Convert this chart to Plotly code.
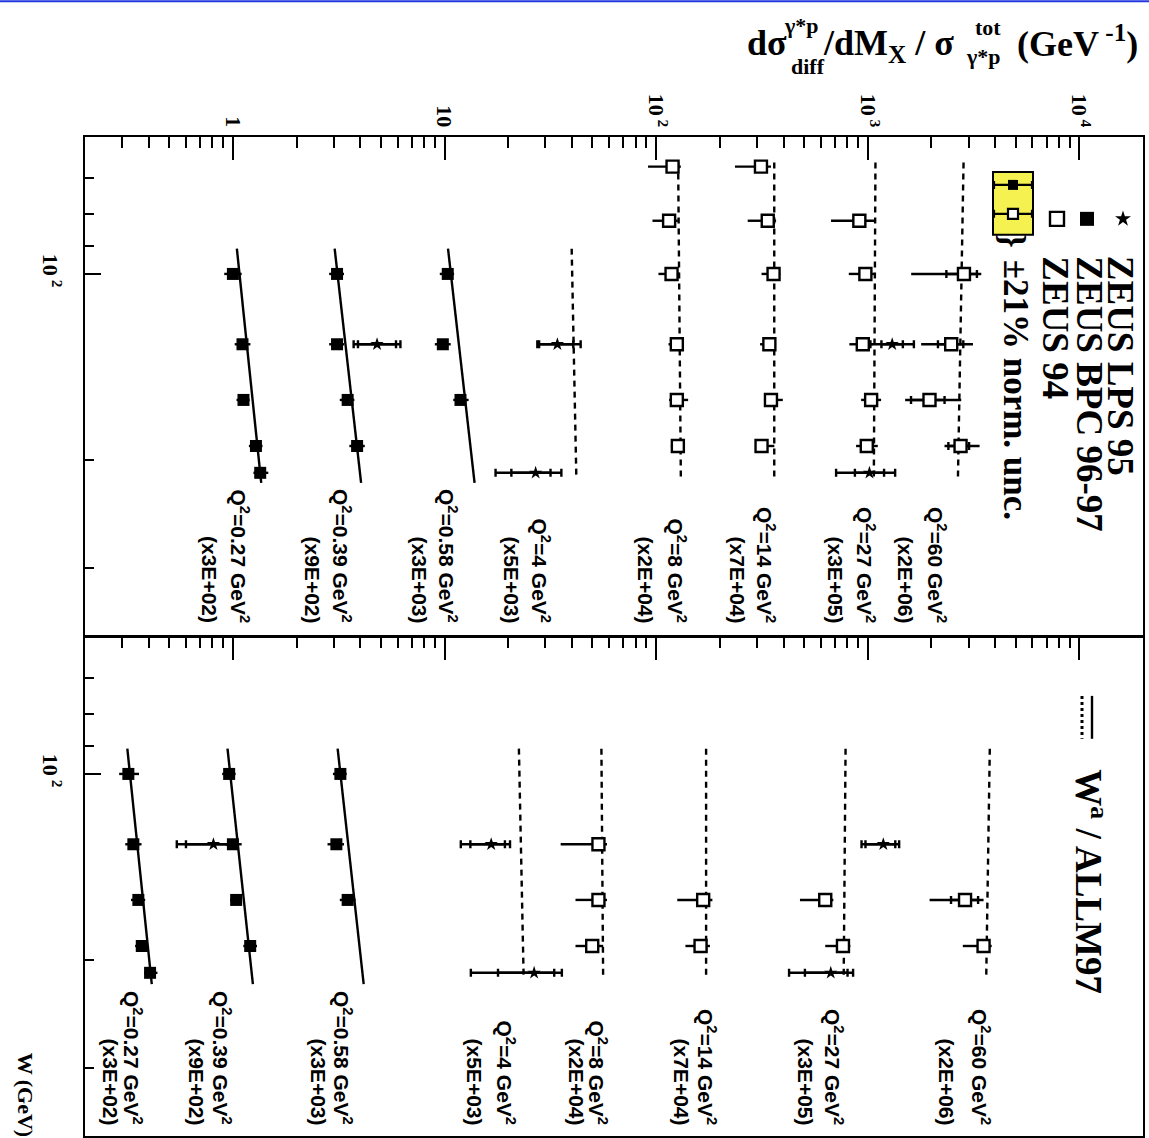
import math
import plotly.graph_objects as go

# ---------------- data ----------------
# ZEUS 94 (open squares), left/top panel
TOP_Z94_Q2 = [60, 60, 60, 60, 27, 27, 27, 27, 27, 14, 14, 14, 14, 14, 14, 8, 8, 8, 8, 8, 8]
TOP_Z94_W = [100, 130, 160, 190, 82, 100, 130, 160, 190, 67, 82, 100, 130, 160, 190, 67, 82, 100, 130, 160, 190]
TOP_Z94_V = [2850, 2481, 1959, 2747, 913, 975, 948, 1038, 990, 313, 337, 359, 343, 349, 315,
             119.6, 115.2, 118.3, 125.3, 125.3, 126.7]
TOP_Z94_LO = [1605, 1789, 1503, 2307, 671, 814, 819, 931, 881, 236, 271, 315, 310, 324, 296,
              91.6, 96.1, 102.6, 114.5, 115.2, 117.4]
TOP_Z94_HI = [3441, 3144, 2767, 3379, 1076, 1076, 1057, 1157, 1116, 349, 369, 386, 369, 397, 362,
              130.9, 126.7, 129.4, 134.8, 141.7, 136.8]
TOP_Z94_STLO = [2354, 2148, 1602, 2406] + [None] * 17
TOP_Z94_STHI = [3282, 2830, 2308, 3014] + [None] * 17

# ZEUS 94 (open squares), right/bottom panel
BOT_Z94_Q2 = [60, 60, 27, 27, 14, 14, 8, 8, 8]
BOT_Z94_W = [160, 190, 160, 190, 160, 190, 130, 160, 190]
BOT_Z94_V = [2884, 3528, 630, 764, 166.9, 162.2, 53.4, 53.4, 49.9]
BOT_Z94_LO = [1961, 2815, 478.6, 630, 125.9, 137.6, 35.4, 41.6, 41.6]
BOT_Z94_HI = [3528, 3854, 688, 828, 184.5, 179.6, 58.6, 58.6, 56.2]
BOT_Z94_STLO = [2476] + [None] * 8
BOT_Z94_STHI = [3324] + [None] * 8

# ZEUS BPC 96-97 (filled squares)
TOP_BPC_Q2 = [0.58, 0.58, 0.58, 0.39, 0.39, 0.39, 0.39, 0.27, 0.27, 0.27, 0.27, 0.27]
TOP_BPC_W = [100, 130, 160, 100, 130, 160, 190, 100, 130, 160, 190, 210]
TOP_BPC_V = [10.36, 9.82, 11.9, 3.106, 3.106, 3.486, 3.863, 1.0, 1.11, 1.122, 1.285, 1.346]
TOP_BPC_LO = [9.5, 9.0, 11.0, 2.85, 2.85, 3.2, 3.55, 0.91, 1.02, 1.04, 1.19, 1.25]
TOP_BPC_HI = [11.1, 10.7, 13.0, 3.35, 3.35, 3.75, 4.2, 1.10, 1.21, 1.20, 1.38, 1.47]

BOT_BPC_Q2 = [0.58, 0.58, 0.58, 0.39, 0.39, 0.39, 0.39, 0.27, 0.27, 0.27, 0.27, 0.27]
BOT_BPC_W = [100, 130, 160, 100, 130, 160, 190, 100, 130, 160, 190, 210]
BOT_BPC_V = [3.22, 3.083, 3.486, 0.96, 1.0, 1.036, 1.207, 0.3206, 0.3385, 0.3574, 0.371, 0.406]
BOT_BPC_LO = [2.97, 2.8, 3.2, 0.89, 0.92, 0.97, 1.12, 0.29, 0.31, 0.33, 0.345, 0.38]
BOT_BPC_HI = [3.45, 3.35, 3.8, 1.03, 1.10, 1.10, 1.30, 0.36, 0.37, 0.385, 0.395, 0.44]

# ZEUS LPS 95 (stars)
TOP_LPS_Q2 = [27, 27, 4, 4, 0.39]
TOP_LPS_W = [130, 210, 130, 210, 130]
TOP_LPS_V = [1305, 1019, 34.15, 26.96, 4.80]
TOP_LPS_LO = [1030, 709, 27.46, 17.43, 3.72]
TOP_LPS_HI = [1653, 1348, 44.0, 35.67, 6.19]
TOP_LPS_STLO = [1161, 870, 28.0, 20.7, 3.9]
TOP_LPS_STHI = [1466, 1195, 40.6, 31.7, 5.9]

BOT_LPS_Q2 = [27, 27, 4, 4, 0.39]
BOT_LPS_W = [130, 210, 130, 210, 130]
BOT_LPS_V = [1185, 669, 16.62, 26.52, 0.809]
BOT_LPS_LO = [935, 425, 11.94, 13.32, 0.543]
BOT_LPS_HI = [1408, 853, 20.4, 35.86, 1.0]
BOT_LPS_STLO = [976, 505, 13.25, 17.9, 0.60]
BOT_LPS_STHI = [1350, 803, 19.3, 33.0, 0.95]

# fits: W^a (left panel) and ALLM97 (right panel); value at W_MIN and W_MAX
FIT_Q2 = [60, 27, 14, 8, 4, 0.58, 0.39, 0.27]
TOP_FIT_WMIN = [66, 66, 66, 66, 91, 91, 91, 91]
TOP_FIT_WMAX = [215, 215, 215, 215, 215, 218, 218, 218]
TOP_FIT_VMIN = [2838, 1088, 361.7, 127.1, 39.9, 10.39, 3.026, 1.044]
TOP_FIT_VMAX = [2669, 1069, 361.7, 130.9, 42.0, 13.87, 4.035, 1.361]
BOT_FIT_WMIN = [91, 91, 91, 91, 91, 91, 91, 91]
BOT_FIT_WMAX = [215, 215, 215, 215, 215, 219, 219, 219]
BOT_FIT_VMIN = [3776, 786, 172.3, 55.15, 22.47, 3.126, 0.943, 0.317]
BOT_FIT_VMAX = [3631, 770, 172.3, 56.2, 23.67, 4.15, 1.243, 0.4136]

Q2_TEXT = ["60", "27", "14", "8", "4", "0.58", "0.39", "0.27"]
SCALE_TEXT = ["x2E+06", "x3E+05", "x7E+04", "x2E+04", "x5E+03", "x3E+03", "x9E+02", "x3E+02"]

VAL_TICKS = [1, 10, 100, 1000, 10000]
VAL_TICKTEXT = ["1", "10", "10<sup> 2</sup>", "10<sup> 3</sup>", "10<sup> 4</sup>"]
VAL_MINOR = [m * 10 ** e for e in range(-1, 5) for m in range(2, 10) if 0.2 <= m * 10 ** e <= 20000]
W_TICKS = [100]
W_TICKTEXT = ["10<sup> 2</sup>"]
W_MINOR = [70, 80, 90, 200, 300]

# ---------------- layout constants (pixels) ----------------
FIG_W, FIG_H = 1149, 1138
L, R, T = 85, 1143, 137
SERIF = "Liberation Serif"
SANS = "Liberation Sans"
# label positions (pixel x of the two text lines for each Q2 bin)
L1X_TOP = [937, 866, 766, 677, 541, 448, 342, 239.5]
L2X_TOP = [905, 835, 737, 645, 511, 419, 312, 209.5]
L1X_BOT = [981, 834, 707, 598, 506, 343, 222, 133]
L2X_BOT = [946, 805, 681, 576, 474, 318, 196, 110]

fig = go.Figure()


def err(v, lo, hi, width):
    return dict(type="data", symmetric=False,
                array=[h - x for x, h in zip(v, hi)],
                arrayminus=[x - l for x, l in zip(v, lo)],
                thickness=2.4, width=width, color="black")


def add_fits(xa, ya, wmin, wmax, vmin, vmax):
    for q, w0, w1, v0, v1 in zip(FIT_Q2, wmin, wmax, vmin, vmax):
        dash = "solid" if q < 1 else "6px,5px"
        fig.add_trace(go.Scatter(x=[v0, v1], y=[w0, w1], mode="lines",
                                 line=dict(color="black", width=2.4, dash=dash),
                                 xaxis=xa, yaxis=ya, hoverinfo="skip", showlegend=False))


def add_points(xa, ya, W, V, LO, HI, STLO, STHI, symbol, size, fill, caps):
    if STLO is not None:
        sel = [i for i in range(len(V)) if STLO[i] is not None]
        sv = [V[i] for i in sel]
        fig.add_trace(go.Scatter(x=sv, y=[W[i] for i in sel], mode="markers",
                                 marker=dict(size=1, color="rgba(0,0,0,0)"),
                                 error_x=err(sv, [STLO[i] for i in sel], [STHI[i] for i in sel], 4),
                                 xaxis=xa, yaxis=ya, hoverinfo="skip", showlegend=False))
    fig.add_trace(go.Scatter(x=V, y=W, mode="markers",
                             marker=dict(symbol=symbol, size=size, color=fill,
                                         line=dict(color="black", width=2.4 if fill == "white" else 0)),
                             error_x=err(V, LO, HI, caps),
                             xaxis=xa, yaxis=ya, hoverinfo="skip", showlegend=False))


# top (left) panel
add_fits("x", "y", TOP_FIT_WMIN, TOP_FIT_WMAX, TOP_FIT_VMIN, TOP_FIT_VMAX)
add_points("x", "y", TOP_Z94_W, TOP_Z94_V, TOP_Z94_LO, TOP_Z94_HI, TOP_Z94_STLO, TOP_Z94_STHI,
           "square", 12, "white", 0)
add_points("x", "y", TOP_BPC_W, TOP_BPC_V, TOP_BPC_LO, TOP_BPC_HI, None, None,
           "square", 12, "black", 0)
add_points("x", "y", TOP_LPS_W, TOP_LPS_V, TOP_LPS_LO, TOP_LPS_HI, TOP_LPS_STLO, TOP_LPS_STHI,
           "star", 10, "black", 4)
# bottom (right) panel
add_fits("x2", "y2", BOT_FIT_WMIN, BOT_FIT_WMAX, BOT_FIT_VMIN, BOT_FIT_VMAX)
add_points("x2", "y2", BOT_Z94_W, BOT_Z94_V, BOT_Z94_LO, BOT_Z94_HI, BOT_Z94_STLO, BOT_Z94_STHI,
           "square", 12, "white", 0)
add_points("x2", "y2", BOT_BPC_W, BOT_BPC_V, BOT_BPC_LO, BOT_BPC_HI, None, None,
           "square", 12, "black", 0)
add_points("x2", "y2", BOT_LPS_W, BOT_LPS_V, BOT_LPS_LO, BOT_LPS_HI, BOT_LPS_STLO, BOT_LPS_STHI,
           "star", 10, "black", 4)

# ---------------- legend keys (pixel overlay axes x3/y3) ----------------
fig.add_shape(type="rect", xref="x3", yref="y3", x0=993, x1=1033, y0=172, y1=235,
              fillcolor="#f4f150", line=dict(color="black", width=2), layer="below")
for sym, fill, yy in [("square", "black", 185), ("square", "white", 214)]:
    fig.add_trace(go.Scatter(x=[1013], y=[yy], mode="markers",
                             marker=dict(symbol=sym, size=10, color=fill,
                                         line=dict(color="black", width=2.2 if fill == "white" else 0)),
                             error_x=dict(type="data", array=[19], thickness=2.2, width=4, color="black"),
                             xaxis="x3", yaxis="y3", hoverinfo="skip", showlegend=False))
for sym, fill, xx, sz in [("star", "black", 1123, 12), ("square", "black", 1087, 14), ("square", "white", 1057, 14)]:
    fig.add_trace(go.Scatter(x=[xx], y=[219], mode="markers",
                             marker=dict(symbol=sym, size=sz, color=fill,
                                         line=dict(color="black", width=2.4 if fill == "white" else 0)),
                             xaxis="x3", yaxis="y3", hoverinfo="skip", showlegend=False))

ann = []


def text(x, y, s, size, family=SERIF, angle=90, xanchor="center", yanchor="top", align="center", paper=False):
    if paper:
        ax, ay, xr_, yr_ = (x - L) / (R - L), (FIG_H - y) / (FIG_H - T), "paper", "paper"
    else:
        ax, ay, xr_, yr_ = x, y, "x3", "y3"
    ann.append(dict(x=ax, y=ay, xref=xr_, yref=yr_, text=s, showarrow=False, textangle=angle,
                    xanchor=xanchor, yanchor=yanchor, align=align,
                    font=dict(family=family, size=size, color="black", weight="bold")))


text(1120, 254, "ZEUS LPS 95", 37)
text(1090, 254, "ZEUS BPC 96-97", 37)
text(1056, 254, "ZEUS 94", 37)
text(1015, 258, "±21% norm. unc.", 35)
text(1013, 232, "}", 36)
text(1091, 768, "W<sup>a</sup> / ALLM97", 37)
fig.add_shape(type="line", xref="x3", yref="y3", x0=1082, x1=1082, y0=697, y1=740,
              line=dict(color="black", width=3, dash="dot"))
fig.add_shape(type="line", xref="x3", yref="y3", x0=1092, x1=1092, y0=697, y1=740,
              line=dict(color="black", width=2.4))

# Q2 labels
for i in range(len(Q2_TEXT)):
    for (l1, l2, yend) in [(L1X_TOP[i], L2X_TOP[i], 626), (L1X_BOT[i], L2X_BOT[i], 1129)]:
        text(l1, yend, "Q<sup>2</sup>=" + Q2_TEXT[i] + " GeV<sup>2</sup>", 21, family=SANS, yanchor="bottom")
        text(l2, yend, "(" + SCALE_TEXT[i] + ")", 21, family=SANS, yanchor="bottom")

# value-axis title (horizontal, pieces to stack super/subscripts)
for s, x, y, sz in [("dσ", 767, 43, 36), ("γ*p", 801, 25, 22), ("diff", 808, 66, 22),
                    ("/dM<sub>X</sub> / σ", 888, 45, 36),
                    ("tot", 988, 27, 22), ("γ*p", 983, 56, 22),
                    ("(GeV<sup> -1</sup>)", 1077, 41, 36)]:
    text(x, y, s, sz, angle=0, yanchor="middle", paper=True)

# W axis title
text(25, 1052, "W (GeV)", 22, paper=True)

fig.add_shape(type="line", xref="paper", yref="paper",
              x0=-L / (R - L), x1=(FIG_W - L) / (R - L),
              y0=(FIG_H - 1) / (FIG_H - T), y1=(FIG_H - 1) / (FIG_H - T),
              line=dict(color="rgb(35,55,225)", width=2))

# ---------------- axes ----------------
xr = [math.log10(0.2), math.log10(20000)]
wr = [math.log10(386), math.log10(60)]
axis_common = dict(showline=True, mirror=True, linecolor="black", linewidth=2,
                   showgrid=False, zeroline=False, ticks="inside", tickcolor="black")
tickfont = dict(family=SERIF, size=22, color="black", weight="bold")
xax = dict(type="log", range=xr, side="top", tickvals=VAL_TICKS, ticktext=VAL_TICKTEXT,
           tickangle=90, ticklen=23, tickwidth=1.5, tickfont=tickfont,
           minor=dict(tickvals=VAL_MINOR, ticklen=11, ticks="inside", tickwidth=1.5, tickcolor="black"),
           **axis_common)
yax = dict(type="log", range=wr, tickvals=W_TICKS, ticktext=W_TICKTEXT, tickangle=90,
           ticklen=16, tickwidth=1.5, tickfont=tickfont, ticklabelstandoff=14,
           minor=dict(tickvals=W_MINOR, ticklen=9, ticks="inside", tickwidth=1.5, tickcolor="black"),
           **axis_common)

top_dom = [(FIG_H - 637) / (FIG_H - T), 1.0]
bot_dom = [0.0, (FIG_H - 638) / (FIG_H - T)]

fig.update_layout(
    width=FIG_W, height=FIG_H,
    margin=dict(l=L, r=FIG_W - R, t=T, b=0, pad=0),
    paper_bgcolor="white", plot_bgcolor="rgba(0,0,0,0)",
    showlegend=False,
    xaxis=dict(anchor="y", domain=[0, 1], **xax),
    yaxis=dict(anchor="x", domain=top_dom, **yax),
    xaxis2=dict(anchor="y2", domain=[0, 1], matches="x", showticklabels=False, **xax),
    yaxis2=dict(anchor="x2", domain=bot_dom, **yax),
    xaxis3=dict(anchor="y3", domain=[0, 1], range=[L, R], visible=False, fixedrange=True),
    yaxis3=dict(anchor="x3", domain=[0, 1], range=[FIG_H, T], visible=False, fixedrange=True),
    annotations=ann,
)

fig.write_html("out.html", include_plotlyjs=True, config={"displayModeBar": False})
